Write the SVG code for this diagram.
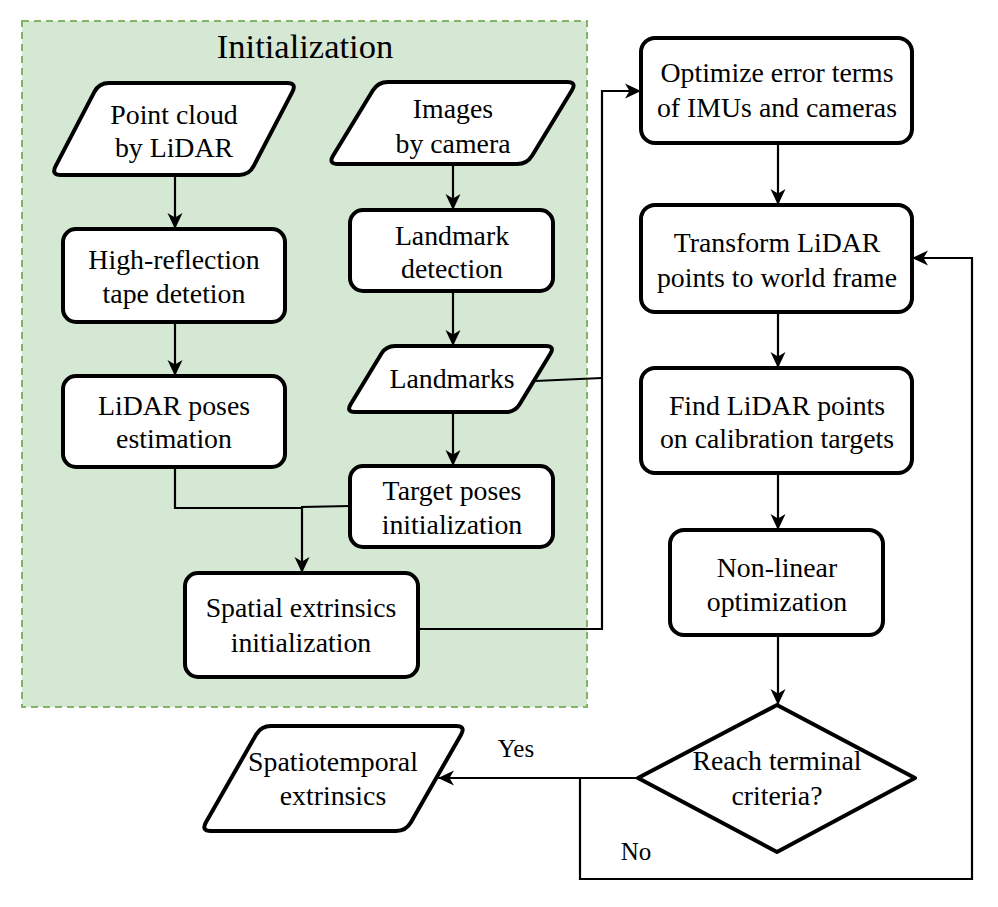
<svg xmlns="http://www.w3.org/2000/svg" width="998" height="907" viewBox="0 0 998 907">
<style>
.n{fill:#fff;stroke:#000;stroke-width:4;stroke-linejoin:round}
.t{font-family:"Liberation Serif","Times New Roman",serif;font-size:27.8px;fill:#000;text-anchor:middle}
.c{fill:none;stroke:#000;stroke-width:2.2}
</style>
<defs>
<marker id="arr" markerWidth="18" markerHeight="18" refX="16" refY="9" orient="auto" markerUnits="userSpaceOnUse">
<path d="M0,1.5 L16,9 L0,16.5 L4.5,9 Z" fill="#000"/>
</marker>
</defs>
<rect x="0" y="0" width="998" height="907" fill="#fff"/>
<g id="initialization">
<rect x="22" y="21" width="565" height="686" fill="#d5e8d4" stroke="#82b366" stroke-width="2" stroke-dasharray="7,5"/>
<text class="t" x="305" y="58" style="font-size:34.5px">Initialization</text>
</g>
<g id="connectors">
<path class="c" d="M175,175 V229" marker-end="url(#arr)"/>
<path class="c" d="M175,322 V376" marker-end="url(#arr)"/>
<path class="c" d="M453,164 V210" marker-end="url(#arr)"/>
<path class="c" d="M453,291 V346" marker-end="url(#arr)"/>
<path class="c" d="M453,412 V466" marker-end="url(#arr)"/>
<path class="c" d="M175,467 V508 H302"/>
<path class="c" d="M350,506 L302,507 V573" marker-end="url(#arr)"/>
<path class="c" d="M535,381 L602,378"/>
<path class="c" d="M418,629 H602 V91 H641" marker-end="url(#arr)"/>
<path class="c" d="M778,143 V205" marker-end="url(#arr)"/>
<path class="c" d="M778,312 V368" marker-end="url(#arr)"/>
<path class="c" d="M778,473 V530" marker-end="url(#arr)"/>
<path class="c" d="M778,635 V705" marker-end="url(#arr)"/>
<path class="c" d="M638,778 H438" marker-end="url(#arr)"/>
<path class="c" d="M580,778 V879 H972 V258 H912" marker-end="url(#arr)"/>
<text class="t" x="516" y="757" style="font-size:25px">Yes</text>
<text class="t" x="636" y="860" style="font-size:25px">No</text>
</g>
<g id="point-cloud">
<path class="n" d="M109,83 L287,83 Q297,83 292.37,91.87 L253.63,166.13 Q249,175 239,175 L61,175 Q51,175 55.63,166.13 L94.37,91.87 Q99,83 109,83 Z"/>
<text class="t" x="174" y="124">Point cloud</text>
<text class="t" x="174" y="157">by LiDAR</text>
</g>
<g id="high-reflection">
<rect class="n" x="63" y="229" width="222" height="93" rx="13"/>
<text class="t" x="174" y="269">High-reflection</text>
<text class="t" x="174" y="303">tape detetion</text>
</g>
<g id="lidar-poses">
<rect class="n" x="63" y="376" width="222" height="91" rx="13"/>
<text class="t" x="174" y="415">LiDAR poses</text>
<text class="t" x="174" y="448">estimation</text>
</g>
<g id="images">
<path class="n" d="M388,82 L567,82 Q577,82 571.79,90.54 L532.21,155.46 Q527,164 517,164 L338,164 Q328,164 333.21,155.46 L372.79,90.54 Q378,82 388,82 Z"/>
<text class="t" x="453" y="118">Images</text>
<text class="t" x="453" y="153">by camera</text>
</g>
<g id="landmark-detection">
<rect class="n" x="350" y="210" width="203" height="81" rx="13"/>
<text class="t" x="452" y="245">Landmark</text>
<text class="t" x="452" y="278">detection</text>
</g>
<g id="landmarks">
<path class="n" d="M395,346 L546,346 Q555,346 550.34,353.70 L519.66,404.30 Q515,412 506,412 L355,412 Q346,412 350.66,404.30 L381.34,353.70 Q386,346 395,346 Z"/>
<text class="t" x="452" y="388">Landmarks</text>
</g>
<g id="target-poses">
<rect class="n" x="350" y="466" width="203" height="81" rx="13"/>
<text class="t" x="452" y="500">Target poses</text>
<text class="t" x="452" y="534">initialization</text>
</g>
<g id="spatial-extrinsics">
<rect class="n" x="185" y="573" width="233" height="104" rx="13"/>
<text class="t" x="301" y="617">Spatial extrinsics</text>
<text class="t" x="301" y="652">initialization</text>
</g>
<g id="optimize">
<rect class="n" x="641" y="38" width="271" height="105" rx="14"/>
<text class="t" x="777" y="82">Optimize error terms</text>
<text class="t" x="777" y="117">of IMUs and cameras</text>
</g>
<g id="transform">
<rect class="n" x="641" y="205" width="271" height="107" rx="14"/>
<text class="t" x="777" y="252">Transform LiDAR</text>
<text class="t" x="777" y="287">points to world frame</text>
</g>
<g id="find-points">
<rect class="n" x="641" y="368" width="271" height="105" rx="14"/>
<text class="t" x="777" y="415">Find LiDAR points</text>
<text class="t" x="777" y="448">on calibration targets</text>
</g>
<g id="non-linear">
<rect class="n" x="670" y="530" width="213" height="105" rx="14"/>
<text class="t" x="777" y="577">Non-linear</text>
<text class="t" x="777" y="611">optimization</text>
</g>
<g id="terminal-criteria">
<path class="n" d="M777,705 L915,778 L777,852 L638,778 Z" stroke-linejoin="miter"/>
<text class="t" x="777" y="770">Reach terminal</text>
<text class="t" x="777" y="805">criteria?</text>
</g>
<g id="spatiotemporal">
<path class="n" d="M271,726 L456,726 Q466,726 461.04,734.68 L410.96,822.32 Q406,831 396,831 L211,831 Q201,831 205.96,822.32 L256.04,734.68 Q261,726 271,726 Z"/>
<text class="t" x="333" y="771">Spatiotemporal</text>
<text class="t" x="333" y="805">extrinsics</text>
</g>
</svg>
